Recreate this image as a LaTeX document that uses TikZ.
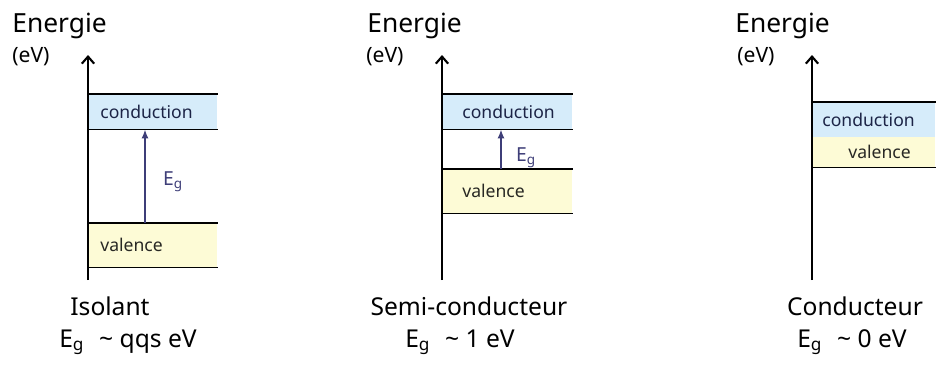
\documentclass[tikz,border=0pt]{standalone}
\usepackage{fontspec}
\setmainfont{Noto Sans}
\usetikzlibrary{arrows.meta}
\definecolor{condblue}{RGB}{214,236,250}
\definecolor{valyellow}{RGB}{253,251,214}
\definecolor{gapblue}{RGB}{62,62,120}
\definecolor{bandtext}{RGB}{28,36,70}
\definecolor{valtext}{RGB}{40,40,36}
\newcommand{\Eg}{E\textsubscript{g}}

\begin{document}
\begin{tikzpicture}[x=0.02cm, y=-0.02cm,
	axis/.style={line width=0.7pt, -{Straight Barb[length=4pt, width=7pt, line width=1.2pt]}},
	bandline/.style={line width=0.9pt},
	cband/.style={shape=rectangle, fill=condblue, inner sep=0pt, anchor=north west},
	vband/.style={shape=rectangle, fill=valyellow, inner sep=0pt, anchor=north west},
	bandlabel/.style={anchor=west, inner sep=0pt, text=bandtext, font=\fontsize{10pt}{12pt}\selectfont},
	vallabel/.style={bandlabel, text=valtext},
	gaparrow/.style={line width=0.7pt, draw=gapblue, -{Latex[length=5pt, width=4pt]}},
	gaplabel/.style={text=gapblue, inner sep=0pt, font=\fontsize{11pt}{13pt}\selectfont},
	title/.style={anchor=base west, inner sep=0pt, font=\fontsize{15pt}{18pt}\selectfont},
	unit/.style={anchor=base west, inner sep=0pt, font=\fontsize{12pt}{14pt}\selectfont},
	kind/.style={anchor=base, inner sep=0pt, font=\fontsize{14pt}{17pt}\selectfont}]
	\useasboundingbox (0,0) rectangle (936,365);

	% Isolant
	\node[title] (en1) at (12,32) {Energie};
	\node[unit] (ev1) at (12,62) {(eV)};
	\coordinate (ax1b) at (88,280);
	\coordinate (ax1t) at (88,55);
	\node[cband, minimum width=129*0.02cm, minimum height=35*0.02cm] (c1) at (88,94) {};
	\node[vband, minimum width=129*0.02cm, minimum height=44*0.02cm] (v1) at (88,223) {};
	\draw[bandline] (c1.north west) -- (c1.north east) (c1.south west) -- (c1.south east);
	\draw[bandline] (v1.north west) -- (v1.north east) (v1.south west) -- (v1.south east);
	\node[bandlabel] (c1t) at ([xshift=12*0.02cm]c1.west) {conduction};
	\node[vallabel] (v1t) at ([xshift=12*0.02cm]v1.west) {valence};
	\draw[axis] (ax1b) -- (ax1t);
	\coordinate (g1) at (145,0);
	\draw[gaparrow] (v1.north -| g1) -- (c1.south -| g1);
	\node[gaplabel] (g1t) at (173,182) {\Eg};
	\node[kind] (k1) at (110,315) {Isolant};
	\node[kind] (e1) at (128,347) {\Eg\hspace{0.6em}\textasciitilde{} qqs eV};

	% Semi-conducteur
	\node[title] (en2) at (367,32) {Energie};
	\node[unit] (ev2) at (366,62) {(eV)};
	\coordinate (ax2b) at (442,280);
	\coordinate (ax2t) at (442,55);
	\node[cband, minimum width=130*0.02cm, minimum height=35*0.02cm] (c2) at (442,94) {};
	\node[vband, minimum width=130*0.02cm, minimum height=44*0.02cm] (v2) at (442,169) {};
	\draw[bandline] (c2.north west) -- (c2.north east) (c2.south west) -- (c2.south east);
	\draw[bandline] (v2.north west) -- (v2.north east) (v2.south west) -- (v2.south east);
	\node[bandlabel] (c2t) at ([xshift=20*0.02cm]c2.west) {conduction};
	\node[vallabel] (v2t) at ([xshift=20*0.02cm]v2.west) {valence};
	\draw[axis] (ax2b) -- (ax2t);
	\coordinate (g2) at (501,0);
	\draw[gaparrow] (v2.north -| g2) -- (c2.south -| g2);
	\node[gaplabel] (g2t) at (526,158) {\Eg};
	\node[kind] (k2) at (469,315) {Semi-conducteur};
	\node[kind] (e2) at (460,347) {\Eg\hspace{0.6em}\textasciitilde{} 1 eV};

	% Conducteur
	\node[title] (en3) at (735,32) {Energie};
	\node[unit] (ev3) at (737,62) {(eV)};
	\coordinate (ax3b) at (812,280);
	\coordinate (ax3t) at (812,55);
	\node[cband, minimum width=123*0.02cm, minimum height=35*0.02cm] (c3) at (812,102) {};
	\node[vband, minimum width=123*0.02cm, minimum height=30*0.02cm] (v3) at (812,137) {};
	\draw[bandline] (c3.north west) -- (c3.north east);
	\draw[bandline] (v3.south west) -- (v3.south east);
	\node[bandlabel] (c3t) at ([xshift=10*0.02cm]c3.west) {conduction};
	\node[vallabel] (v3t) at ([xshift=36*0.02cm]v3.west) {valence};
	\draw[axis] (ax3b) -- (ax3t);
	\node[kind] (k3) at (855,315) {Conducteur};
	\node[kind] (e3) at (852,347) {\Eg\hspace{0.6em}\textasciitilde{} 0 eV};
\end{tikzpicture}
\end{document}
